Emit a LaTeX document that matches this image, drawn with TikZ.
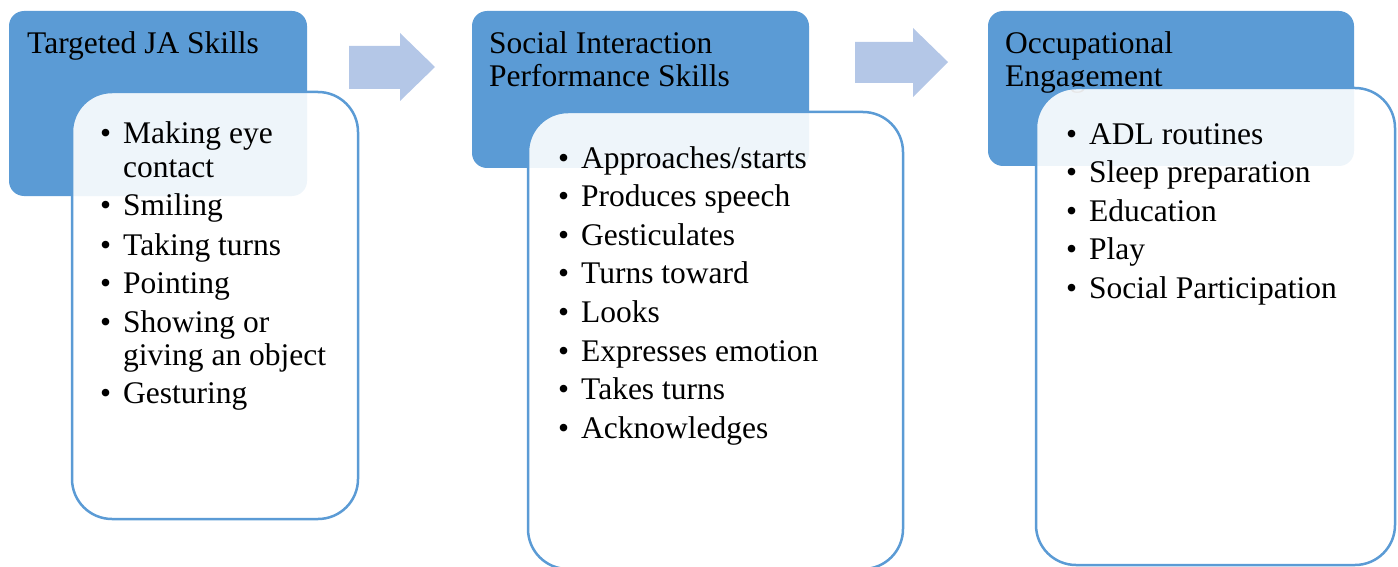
\documentclass[tikz,border=0pt]{standalone}
\usepackage{fontspec}
\setmainfont{Liberation Serif}
\definecolor{hdrblue}{RGB}{91,155,213}
\definecolor{arrblue}{RGB}{180,199,231}
\tikzset{
  hdrbox/.style={fill=hdrblue, draw=none, rounded corners=15pt},
  bodybox/.style={draw=hdrblue, line width=2.5pt, fill=white, fill opacity=0.9, rounded corners=40pt},
  blockarrow/.style={fill=arrblue, draw=none},
  txt/.style={anchor=base west, inner sep=0pt, align=left, font=\fontsize{31.5}{33.5}\selectfont},
}
\newcommand{\bul}{\makebox[23pt][l]{\textbullet}}
\begin{document}
\begin{tikzpicture}[x=1pt,y=-1pt]
\useasboundingbox (0,0) rectangle (1398,567);
% headers
\path[hdrbox] (9,11) rectangle (307,196);
\path[hdrbox] (472,11) rectangle (809,168);
\path[hdrbox] (988,11) rectangle (1354,166);
\node[txt] (t1) at (27,54) {Targeted JA Skills};
\node[txt] (t2) at (489,87) {Social Interaction\\Performance Skills};
\node[txt] (t3) at (1005,87) {Occupational\\Engagement};
% bodies
\path[bodybox] (72,92) rectangle (358,519);
\path[bodybox] (528,112) rectangle (903,569);
\path[bodybox] (1036,88) rectangle (1395,565);
% arrows
\path[blockarrow] (349,46) -- (400,46) -- (400,33) -- (435,67) -- (400,101) -- (400,89) -- (349,89) -- cycle;
\path[blockarrow] (855,42) -- (913,42) -- (913,28) -- (948,62) -- (913,97) -- (913,83) -- (855,83) -- cycle;
% list 1
\node[txt] (a1) at (100,177.5) {\bul Making eye\\\hspace*{23pt}contact};
\node[txt] (a2) at (100,215) {\bul Smiling};
\node[txt] (a3) at (100,255) {\bul Taking turns};
\node[txt] (a4) at (100,293) {\bul Pointing};
\node[txt] (a5) at (100,365.5) {\bul Showing or\\\hspace*{23pt}giving an object};
\node[txt] (a6) at (100,403) {\bul Gesturing};
% list 2
\node[txt] (b1) at (558,168) {\bul Approaches/starts};
\node[txt] (b2) at (558,206) {\bul Produces speech};
\node[txt] (b3) at (558,245) {\bul Gesticulates};
\node[txt] (b4) at (558,283) {\bul Turns toward};
\node[txt] (b5) at (558,322) {\bul Looks};
\node[txt] (b6) at (558,361) {\bul Expresses emotion};
\node[txt] (b7) at (558,399) {\bul Takes turns};
\node[txt] (b8) at (558,438) {\bul Acknowledges};
% list 3
\node[txt] (c1) at (1066,144.5) {\bul ADL routines};
\node[txt] (c2) at (1066,182.5) {\bul Sleep preparation};
\node[txt] (c3) at (1066,221.5) {\bul Education};
\node[txt] (c4) at (1066,259.5) {\bul Play};
\node[txt] (c5) at (1066,298.5) {\bul Social Participation};
\end{tikzpicture}
\end{document}
